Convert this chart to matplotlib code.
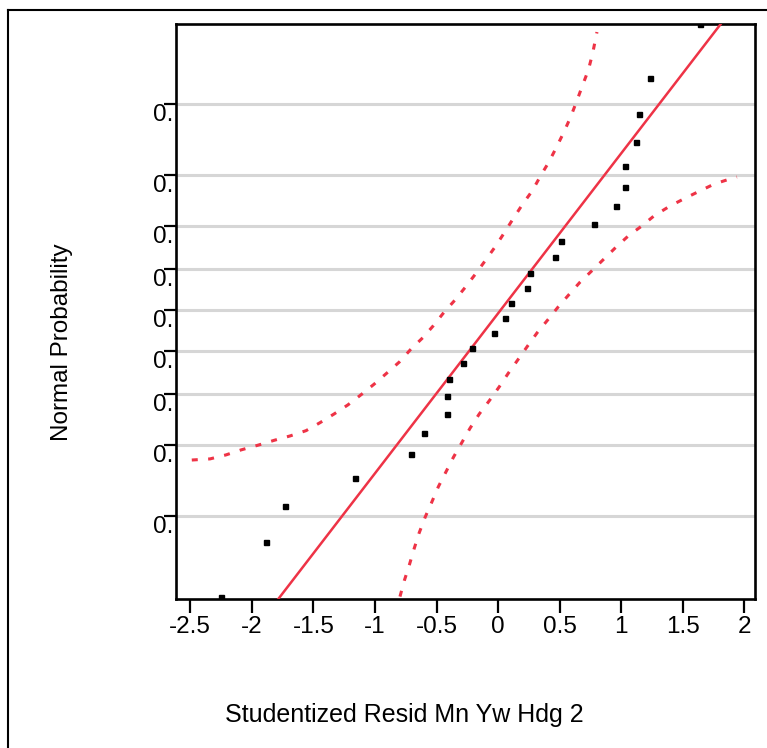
import matplotlib.pyplot as plt
from matplotlib.lines import Line2D

plt.rcParams['font.family'] = ['Liberation Sans', 'DejaVu Sans']
plt.rcParams['lines.scale_dashes'] = False

# sorted studentized residuals
resid = [-2.250, -1.886, -1.728, -1.165, -0.711, -0.599, -0.417, -0.417, -0.396,
         -0.283, -0.214, -0.033, 0.056, 0.102, 0.237, 0.259, 0.465, 0.511,
         0.779, 0.958, 1.028, 1.028, 1.120, 1.142, 1.231, 1.640]
# normal quantile of each rank
quant = [-1.786, -1.446, -1.221, -1.045, -0.896, -0.765, -0.646, -0.535, -0.431,
         -0.331, -0.234, -0.140, -0.046, 0.046, 0.140, 0.234, 0.331, 0.431,
         0.535, 0.646, 0.765, 0.896, 1.045, 1.221, 1.446, 1.786]

# probability gridlines (0.1 ... 0.9) in quantile units
prob_pos = [-1.2816, -0.8416, -0.5244, -0.2533, 0.0, 0.2533, 0.5244, 0.8416, 1.2816]
prob_labels = ['0.'] * len(prob_pos)

x_ticks = [-2.5, -2, -1.5, -1, -0.5, 0, 0.5, 1, 1.5, 2]
x_labels = ['-2.5', '-2', '-1.5', '-1', '-0.5', '0', '0.5', '1', '1.5', '2']

# fitted normal line
mu, sigma = 0.02, 1.003

# confidence bounds
upper_x = [-2.488, -2.340, -2.210, -2.088, -1.952, -1.818, -1.690, -1.560, -1.446,
           -1.332, -1.221, -1.108, -1.005, -0.905, -0.802, -0.707, -0.612, -0.526,
           -0.439, -0.350, -0.263, -0.179, -0.101, -0.019, 0.056, 0.124, 0.200,
           0.278, 0.346, 0.414, 0.476, 0.536, 0.590, 0.639, 0.687, 0.733, 0.768, 0.803]
upper_y = [-0.934, -0.927, -0.902, -0.871, -0.842, -0.811, -0.784, -0.751, -0.701,
           -0.647, -0.591, -0.524, -0.460, -0.393, -0.323, -0.242, -0.172, -0.097,
           -0.013, 0.063, 0.146, 0.230, 0.312, 0.400, 0.489, 0.572, 0.661,
           0.744, 0.838, 0.925, 1.018, 1.112, 1.205, 1.303, 1.403, 1.496, 1.600, 1.733]
lower_x = [-0.797, -0.762, -0.721, -0.683, -0.642, -0.593, -0.539, -0.485, -0.423,
           -0.363, -0.295, -0.228, -0.153, -0.071, 0.010, 0.083, 0.159, 0.240,
           0.318, 0.403, 0.489, 0.578, 0.665, 0.768, 0.860, 0.957, 1.057, 1.166,
           1.266, 1.388, 1.510, 1.626, 1.756, 1.897, 1.940]
lower_y = [-1.785, -1.686, -1.588, -1.489, -1.390, -1.291, -1.197, -1.100, -1.007,
           -0.917, -0.826, -0.736, -0.647, -0.564, -0.477, -0.393, -0.311, -0.223,
           -0.140, -0.061, 0.021, 0.099, 0.174, 0.250, 0.319, 0.392, 0.462, 0.524,
           0.587, 0.645, 0.694, 0.738, 0.786, 0.821, 0.830]

red = '#ee3346'

fig = plt.figure(figsize=(7.67, 7.48), dpi=100)
ax = fig.add_axes([0.2295, 0.1992, 0.7549, 0.7687])

xlim = (-2.616, 2.087)
ylim = (-1.80, 1.783)

for yp in prob_pos:
    ax.axhline(yp, color='#d6d6d6', lw=2.2, zorder=1)

ax.plot(upper_x, upper_y, color=red, lw=2.2, dashes=(4.3, 7.5), zorder=2)
ax.plot(lower_x, lower_y, color=red, lw=2.2, dashes=(4.3, 7.5), zorder=2)

fx = [xlim[0], xlim[1]]
fy = [(v - mu) / sigma for v in fx]
ax.plot(fx, fy, color=red, lw=1.8, zorder=3)

ax.plot(resid, quant, 's', color='black', ms=3.6, zorder=4)

ax.set_xlim(*xlim)
ax.set_ylim(*ylim)

ax.set_xticks(x_ticks)
ax.set_xticklabels(x_labels, fontsize=17.5)
ax.set_yticks(prob_pos)
ax.set_yticklabels(prob_labels, fontsize=17.5)
for lab in ax.get_yticklabels():
    lab.set_va('top')

ax.tick_params(axis='x', direction='out', length=10, width=1.6, pad=2, colors='black')
ax.tick_params(axis='y', direction='out', length=9, width=1.6, pad=-7, colors='black')

for sp in ax.spines.values():
    sp.set_linewidth(1.9)
    sp.set_color('black')

fig.text(404 / 767, 1 - 715 / 748, 'Studentized Resid Mn Yw Hdg 2',
         ha='center', va='center', fontsize=18)
fig.text(62 / 767, 1 - 342 / 748, 'Normal Probability', rotation=90,
         ha='center', va='center', fontsize=17.5)

# outer frame (partly cut off)
fig.add_artist(Line2D([8 / 767, 8 / 767], [0, 1 - 10 / 748], color='black', lw=1.5,
                      transform=fig.transFigure))
fig.add_artist(Line2D([8 / 767, 1], [1 - 10 / 748, 1 - 10 / 748], color='black', lw=1.5,
                      transform=fig.transFigure))

plt.savefig('out.png', dpi=100)
